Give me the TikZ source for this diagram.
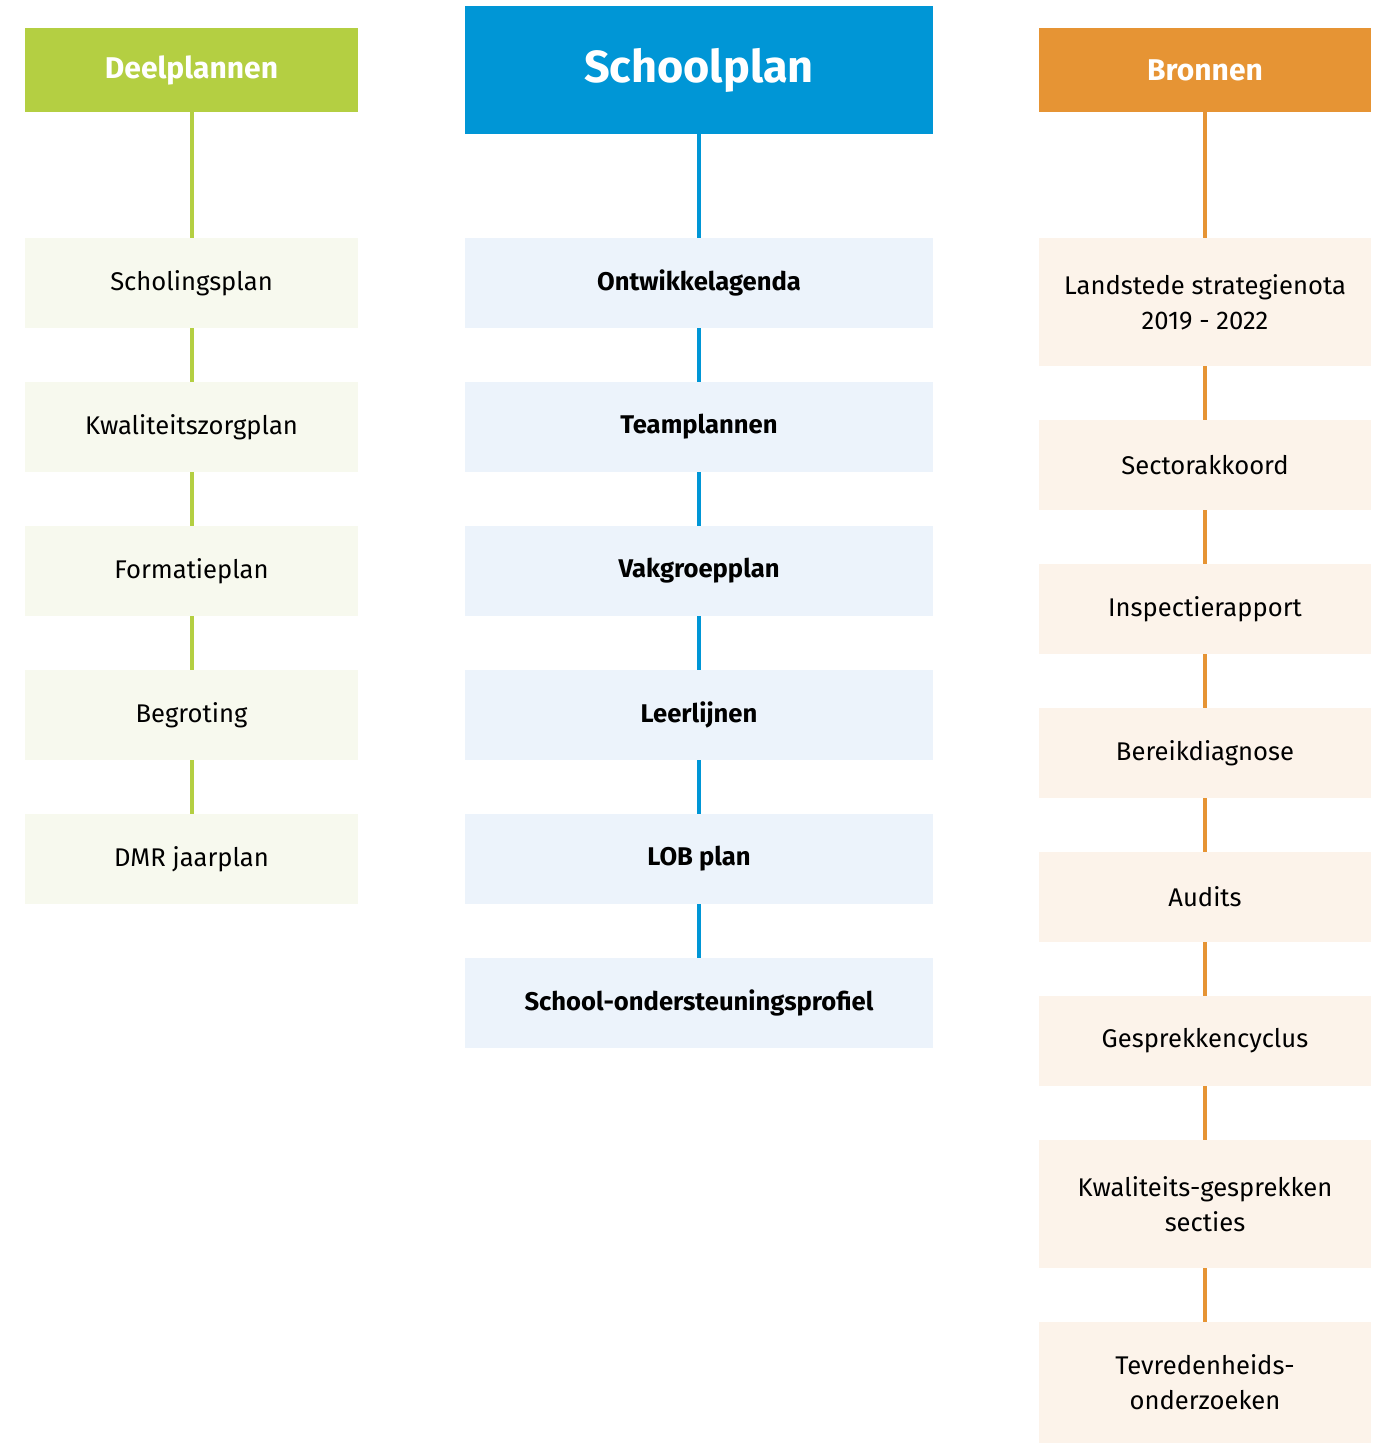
\documentclass[tikz,border=0pt]{standalone}
\usepackage{fontspec}
\setmainfont{Fira Sans}
\definecolor{lime}{HTML}{B4CF42}
\definecolor{sblue}{HTML}{0096D6}
\definecolor{orng}{HTML}{E69434}
\definecolor{limelt}{HTML}{F7F9EE}
\definecolor{bluelt}{HTML}{ECF3FB}
\definecolor{orlt}{HTML}{FCF3EA}
\begin{document}
\begin{tikzpicture}[x=0.5pt,y=-0.5pt,
  box/.style={rectangle,inner sep=0pt,align=center,font=\fontsize{12.8}{17.5}\selectfont,text=black},
  lbox/.style={box,fill=limelt,minimum width=166.5pt,minimum height=45pt},
  mbox/.style={box,fill=bluelt,minimum width=234pt,minimum height=45pt,font=\fontsize{12.8}{17.5}\selectfont\bfseries},
  rbox/.style={box,fill=orlt,minimum width=166pt,minimum height=45pt},
  hdr/.style={rectangle,inner sep=0pt,text=white,font=\fontsize{15}{18}\selectfont\bfseries},
  lline/.style={draw=lime,line width=2pt},
  mline/.style={draw=sblue,line width=2pt},
  rline/.style={draw=orng,line width=2pt}]
\useasboundingbox (0,0) rectangle (1385,1443);
% headers
\node[hdr,fill=lime,minimum width=166.5pt,minimum height=42pt] (lh) at (191.5,70) {Deelplannen};
\node[hdr,fill=sblue,minimum width=234pt,minimum height=64pt,font=\fontsize{22.5}{27}\selectfont\bfseries] (mh) at (699,70) {Schoolplan};
\node[hdr,fill=orng,minimum width=166pt,minimum height=42pt] (rh) at (1205,70) {Bronnen};
% left
\node[lbox] (l1) at (191.5,283) {Scholingsplan};
\node[lbox] (l2) at (191.5,427) {Kwaliteitszorgplan};
\node[lbox] (l3) at (191.5,571) {Formatieplan};
\node[lbox] (l4) at (191.5,715) {Begroting};
\node[lbox] (l5) at (191.5,859) {DMR jaarplan};
% middle
\node[mbox] (m1) at (699,283) {Ontwikkelagenda};
\node[mbox] (m2) at (699,427) {Teamplannen};
\node[mbox] (m3) at (699,571) {Vakgroepplan};
\node[mbox] (m4) at (699,715) {Leerlijnen};
\node[mbox] (m5) at (699,859) {LOB plan};
\node[mbox] (m6) at (699,1003) {School-ondersteuningsprofiel};
% right
\node[rbox,minimum height=64pt] (r1) at (1205,302) {Landstede strategienota\\2019 - 2022};
\node[rbox] (r2) at (1205,465) {Sectorakkoord};
\node[rbox] (r3) at (1205,609) {Inspectierapport};
\node[rbox] (r4) at (1205,753) {Bereikdiagnose};
\node[rbox] (r5) at (1205,897) {Audits};
\node[rbox] (r6) at (1205,1041) {Gesprekkencyclus};
\node[rbox,minimum height=64pt] (r7) at (1205,1204) {Kwaliteits-gesprekken\\secties};
\node[rbox,minimum height=60.5pt] (r8) at (1205,1382.5) {Tevredenheids-\\onderzoeken};
% connectors
\foreach \a/\b in {lh/l1,l1/l2,l2/l3,l3/l4,l4/l5} \draw[lline] (\a.south) -- (\b.north);
\foreach \a/\b in {mh/m1,m1/m2,m2/m3,m3/m4,m4/m5,m5/m6} \draw[mline] (\a.south) -- (\b.north);
\foreach \a/\b in {rh/r1,r1/r2,r2/r3,r3/r4,r4/r5,r5/r6,r6/r7,r7/r8} \draw[rline] (\a.south) -- (\b.north);
\end{tikzpicture}
\end{document}
